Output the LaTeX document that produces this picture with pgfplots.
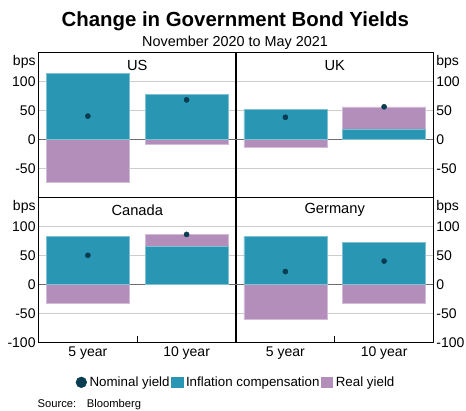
\documentclass[border=0pt]{standalone}
\usepackage{fontspec}
\setmainfont{Liberation Sans}
\usepackage{pgfplots}
\pgfplotsset{compat=1.18}
\definecolor{infl}{RGB}{41,150,180}
\definecolor{realc}{RGB}{180,142,187}
\definecolor{nom}{RGB}{8,60,80}
\definecolor{gridc}{RGB}{205,205,205}
\definecolor{zeroc}{RGB}{110,110,110}
\pgfplotsset{
  panel/.style={
    scale only axis, width=148.1pt, height=108.75pt,
    xmin=0.5, xmax=2.5, ymin=-100, ymax=150,
    clip=false,
    xtick={1,2}, xticklabels={},
    ytick={-100,-50,50,100},
    extra y ticks={0}, extra y tick labels={0},
    extra y tick style={major grid style={zeroc, line width=1pt}},
    ymajorgrids, major grid style={gridc, line width=0.75pt},
    major tick length=0pt,
    axis line style={black, line width=0.75pt},
    ticklabel style={font=\fontsize{10.5}{12}\selectfont},
    yticklabel style={inner sep=2pt},
    xtick pos=left,
  },
  toppanel/.style={panel, yticklabels={,-50,50,100}},
  botpanel/.style={panel, yticklabels={-100,-50,50,100},
    xticklabels={5 year,10 year},
    extra x ticks={1.5}, extra x tick labels={},
    extra x tick style={major tick length=5pt, tick align=inside, tick style={black, line width=0.6pt}}},
  leftpanel/.style={ytick pos=left},
  rightpanel/.style={ytick pos=right, yticklabel pos=right},
  realbar/.style={ybar, bar width=0.84, bar shift=0pt, fill=realc, draw=realc!60!white, line width=0.4pt},
  inflbar/.style={ybar, bar width=0.84, bar shift=0pt, fill=infl, draw=infl!60!white, line width=0.4pt},
  nomdot/.style={only marks, mark=*, mark size=1.9pt, color=nom, mark options={fill=nom, draw=nom}},
}
\newcommand{\bpsleft}{\node[anchor=north east, inner sep=2pt, font=\fontsize{10.5}{12}\selectfont] at (rel axis cs:0,1) {bps};}
\newcommand{\bpsright}{\node[anchor=north west, inner sep=2pt, font=\fontsize{10.5}{12}\selectfont] at (rel axis cs:1,1) {bps};}
\begin{document}
\begin{tikzpicture}
\useasboundingbox (0pt,0pt) rectangle (349.5pt,-307.5pt);
\node[anchor=base, font=\bfseries\fontsize{15.3}{18}\selectfont] at (176.4pt,-20pt) {Change in Government Bond Yields};
\node[anchor=base, font=\fontsize{10.8}{13}\selectfont] at (176.3pt,-35pt) {November 2020 to May 2021};

% US
\begin{axis}[toppanel, leftpanel, at={(28.875pt,-39.225pt)}, anchor=north west]
\addplot[realbar] coordinates {(1,-74) (2,-9)};
\addplot[inflbar] coordinates {(1,113) (2,77)};
\addplot[nomdot] coordinates {(1,40) (2,68)};
\node[font=\fontsize{11}{13}\selectfont] at (rel axis cs:0.5,0.91) {US};
\bpsleft
\end{axis}

% UK
\begin{axis}[toppanel, rightpanel, at={(177pt,-39.225pt)}, anchor=north west]
\addplot[realbar] coordinates {(1,-13) (2,56)};
\addplot[inflbar] coordinates {(1,51) (2,18)};
\addplot[nomdot] coordinates {(1,38) (2,56)};
\node[font=\fontsize{11}{13}\selectfont] at (rel axis cs:0.5,0.91) {UK};
\bpsright
\end{axis}

% Canada
\begin{axis}[botpanel, leftpanel, at={(28.875pt,-147.975pt)}, anchor=north west]
\addplot[realbar] coordinates {(1,-32) (2,86)};
\addplot[inflbar] coordinates {(1,82) (2,66)};
\addplot[nomdot] coordinates {(1,50) (2,86)};
\node[font=\fontsize{11}{13}\selectfont] at (rel axis cs:0.5,0.91) {Canada};
\bpsleft
\end{axis}

% Germany
\begin{axis}[botpanel, rightpanel, at={(177pt,-147.975pt)}, anchor=north west,
  legend style={at={(0,-0.276)}, anchor=center, draw=none, fill=none,
    legend columns=3, font=\fontsize{10}{12}\selectfont,
    nodes={inner sep=1.2pt},
    /tikz/every odd column/.append style={column sep=1pt}},
  legend cell align=left]
\addlegendimage{only marks, mark=*, mark size=4pt, color=nom, mark options={fill=nom, draw=nom}}
\addlegendentry{Nominal yield}
\addlegendimage{legend image code/.code={\fill[infl] (0pt,-4pt) rectangle (8.5pt,4pt);}}
\addlegendentry{Inflation compensation}
\addlegendimage{legend image code/.code={\fill[realc] (0pt,-4pt) rectangle (8.5pt,4pt);}}
\addlegendentry{Real yield}
\addplot[realbar, forget plot] coordinates {(1,-60) (2,-32)};
\addplot[inflbar, forget plot] coordinates {(1,82) (2,72)};
\addplot[nomdot, forget plot] coordinates {(1,22) (2,40)};
\node[font=\fontsize{11}{13}\selectfont] at (rel axis cs:0.5,0.91) {Germany};
\bpsright
\end{axis}

\node[anchor=base west, inner sep=0pt, font=\fontsize{8.4}{10}\selectfont] at (28pt,-305.5pt) {Source:};
\node[anchor=base west, inner sep=0pt, font=\fontsize{8.4}{10}\selectfont] at (65pt,-305.5pt) {Bloomberg};
\end{tikzpicture}
\end{document}
